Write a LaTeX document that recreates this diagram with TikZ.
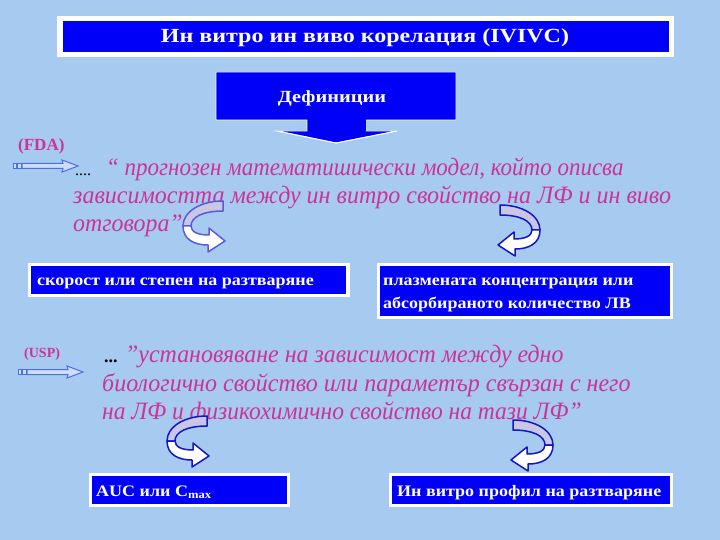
\documentclass[tikz,border=0pt]{standalone}
\usepackage{fontspec}
\usepackage{graphicx}
\setmainfont{Liberation Serif}
\definecolor{bg}{RGB}{166,202,240}
\definecolor{boxblue}{RGB}{0,0,250}
\definecolor{pinkt}{RGB}{204,51,153}
\definecolor{iconc}{RGB}{80,110,230}
\definecolor{iconfill}{RGB}{205,222,250}
\definecolor{ribbonback}{RGB}{200,200,228}
\definecolor{ribbonline}{RGB}{20,20,200}
\definecolor{ribbonlight}{RGB}{90,90,220}
\newcommand{\hs}[2]{\scalebox{#1}[1]{#2}}
\tikzset{
  txt/.style={inner sep=0pt, anchor=base west},
  boxtxt/.style={txt, text=white, font=\fontsize{16}{19}\selectfont\bfseries},
  deftxt/.style={txt, text=pinkt, font=\fontsize{25}{30}\selectfont\itshape},
  lbl/.style={txt, text=pinkt, font=\fontsize{14}{16}\selectfont\bfseries},
  outerbox/.style={fill=white, draw=none},
  innerbox/.style={fill=boxblue, draw=none},
  iconstyle/.style={draw=iconc, fill=iconfill, line width=1pt, line join=miter},
  ribbon/.style={line width=1.5pt, line join=round},
}
\newcommand{\myicon}{%
  \draw[iconstyle] (0,-2.5) rectangle (3.5,2.5);
  \draw[iconstyle] (4.5,-2.5) rectangle (8,2.5);
  \draw[iconstyle] (9,-2.5) -- (50,-2.5) -- (49,-6) -- (65,0) -- (49,6) -- (50,2.5) -- (9,2.5) -- cycle;
}
\newcommand{\mycurl}[1]{%
  \draw[ribbon, draw=#1, fill=ribbonback] (40,-25) .. controls (17,-25) and (0,-14) .. (0,0) -- (8,0) .. controls (8,-9) and (20,-15) .. (40,-15) -- cycle;
  \draw[ribbon, draw=#1, fill=white] (0,0) .. controls (0,14) and (12,19) .. (25,19) -- (25,26) -- (42,15) -- (26,2) -- (26,9) .. controls (15,9) and (8,6) .. (8,0) -- cycle;
}
\begin{document}
\begin{tikzpicture}[x=1pt,y=-1pt]
\path[fill=bg, use as bounding box] (0,0) rectangle (720,540);

% title
\path[outerbox] (57,16) rectangle (674,57);
\path[innerbox] (63,21) rectangle (669,52);
\node[inner sep=0pt, anchor=base, text=white, font=\fontsize{20}{24}\selectfont\bfseries] (title) at (365,43) {\hs{1.2}{Ин витро ин виво корелация (IVIVC)}};

% definitions callout
\draw[fill=boxblue, draw=white, line width=0.8pt] (216,72) -- (456,72) -- (456,120) -- (366,120) -- (366,131) -- (397,131) -- (336,143) -- (277,131) -- (307,131) -- (307,120) -- (216,120) -- cycle;
\path[fill=boxblue] (307.5,119) rectangle (365.5,131.5);
\draw[white, line width=0.9pt] (277,131) -- (336,143) -- (397,131);
\node[inner sep=0pt, anchor=base, text=white, font=\fontsize{17}{20}\selectfont\bfseries] (defs) at (332,103) {\hs{1.2}{Дефиниции}};

% FDA
\node[lbl, font=\fontsize{17}{19}\selectfont\bfseries] (fda) at (18,151) {(FDA)};
\begin{scope}[shift={(13,166)}]\myicon\end{scope}
\node[txt, font=\fontsize{16}{18}\selectfont] (dots1) at (75,176) {....};
\node[deftxt] (f1) at (106,176) {\hs{0.92}{“ прогнозен математишически модел, който описва}};
\node[deftxt] (f2) at (73,204) {\hs{0.96}{зависимостта между ин витро свойство на ЛФ и ин виво}};
\node[deftxt] (f3) at (73,232) {\hs{0.955}{отговора”}};

\begin{scope}[shift={(183,226)}]\mycurl{ribbonlight}\end{scope}
\begin{scope}[shift={(540,230)}, xscale=-1]\mycurl{ribbonline}\end{scope}

\path[outerbox] (28,263) rectangle (350,297);
\path[innerbox] (31,266) rectangle (346,294);
\node[boxtxt] (b1) at (37,285) {\hs{1.125}{скорост или степен на разтваряне}};

\path[outerbox] (377,263) rectangle (673,319);
\path[innerbox] (380,266) rectangle (670,316);
\node[boxtxt] (b2a) at (383,285) {\hs{1.125}{плазмената концентрация или}};
\node[boxtxt] (b2b) at (383,308) {\hs{1.125}{абсорбираното количество ЛВ}};

% USP
\node[lbl] (usp) at (24,357) {(USP)};
\begin{scope}[shift={(18,372)}]\myicon\end{scope}
\node[txt, font=\fontsize{18}{20}\selectfont\bfseries] (dots2) at (104,362) {...};
\node[deftxt] (u1) at (125,362) {\hs{0.956}{”установяване на зависимост между едно}};
\node[deftxt] (u2) at (102,391) {\hs{0.96}{биологично свойство или параметър свързан с него}};
\node[deftxt] (u3) at (102,419) {\hs{0.94}{на ЛФ и физикохимично свойство на тази ЛФ”}};

\begin{scope}[shift={(167,441)}]\mycurl{ribbonline}\end{scope}
\begin{scope}[shift={(553,445)}, xscale=-1]\mycurl{ribbonline}\end{scope}

\path[outerbox] (89,473) rectangle (290,507);
\path[innerbox] (92,476) rectangle (287,504);
\node[boxtxt] (b3) at (96,496) {\hs{1.125}{AUC или C\textsubscript{max}}};

\path[outerbox] (389,473) rectangle (673,507);
\path[innerbox] (392,476) rectangle (670,504);
\node[boxtxt] (b4) at (397,496) {\hs{1.125}{Ин витро профил на разтваряне}};
\end{tikzpicture}
\end{document}
